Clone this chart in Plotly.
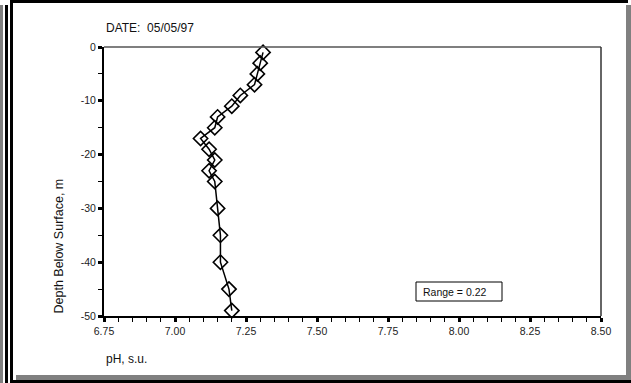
import plotly.graph_objects as go

# ---- data ----
depth_m = [-1, -3, -5, -7, -9, -11, -13, -15, -17, -19, -21, -23, -25, -30, -35, -40, -45, -49]
ph_su = [7.31, 7.30, 7.29, 7.28, 7.23, 7.20, 7.15, 7.14, 7.09, 7.12, 7.14, 7.12, 7.14, 7.15, 7.16, 7.16, 7.19, 7.20]
x_tick_vals = [6.75, 7.00, 7.25, 7.50, 7.75, 8.00, 8.25, 8.50]
x_tick_text = ["6.75", "7.00", "7.25", "7.50", "7.75", "8.00", "8.25", "8.50"]
y_tick_vals = [0, -10, -20, -30, -40, -50]
y_tick_text = ["0", "-10", "-20", "-30", "-40", "-50"]
date_label = "DATE:\u00a0\u00a005/05/97"
x_title = "pH, s.u."
y_title = "Depth Below Surface, m"
range_label = "Range = 0.22"

# ---- layout geometry (pixels) ----
W, H = 631, 383
L, R, T, B = 104, 601, 47, 316
PW, PH = R - L, B - T


def px(x):
    return (x - L) / PW


def py(y):
    return (B - y) / PH


FONT = "Liberation Sans, Arial, sans-serif"

fig = go.Figure()
fig.add_trace(go.Scatter(
    x=ph_su, y=depth_m, mode="lines+markers",
    line=dict(color="black", width=1.5),
    marker=dict(symbol="diamond-open", size=11, color="black", line=dict(width=1.6)),
    showlegend=False, cliponaxis=False,
))

fig.update_layout(
    width=W, height=H, autosize=False,
    margin=dict(l=L, r=W - R, t=T, b=H - B, pad=0),
    paper_bgcolor="white", plot_bgcolor="white",
    font=dict(family=FONT, size=10, color="#222"),
    xaxis=dict(
        range=[6.75, 8.5], tickvals=x_tick_vals, ticktext=x_tick_text,
        showgrid=False, zeroline=False,
        showline=True, linecolor="black", linewidth=2,
        ticks="outside", ticklen=4, tickwidth=3, tickcolor="black",
        minor=dict(dtick=0.05, tick0=6.75, ticks="outside", ticklen=4, tickwidth=1, tickcolor="black", showgrid=False),
        tickfont=dict(size=10.5, color="#222"),
    ),
    yaxis=dict(
        range=[-50, 0], tickvals=y_tick_vals, ticktext=y_tick_text,
        showgrid=False, zeroline=False,
        showline=True, linecolor="black", linewidth=2,
        ticks="outside", ticklen=4, tickwidth=3, tickcolor="black",
        minor=dict(dtick=5, tick0=0, ticks="outside", ticklen=4, tickwidth=1, tickcolor="black", showgrid=False),
        tickfont=dict(size=10.5, color="#222"),
    ),
)

shapes = []


def rect(x0, y0, x1, y1, color):
    shapes.append(dict(type="rect", xref="paper", yref="paper",
                       x0=px(x0), x1=px(x1), y0=py(y1), y1=py(y0),
                       fillcolor=color, line=dict(width=0), layer="above"))


# plot area top and right borders
shapes.append(dict(type="line", xref="paper", yref="paper", x0=0, x1=1, y0=1, y1=1,
                   line=dict(color="#555", width=1.5)))
shapes.append(dict(type="line", xref="paper", yref="paper", x0=1, x1=1, y0=0, y1=1,
                   line=dict(color="#333", width=1.5)))

# outer frame
rect(0, 5, 3, 383, "#808080")
rect(5, 5, 8, 383, "black")
rect(10, 0, 13, 380, "black")
rect(10, 0, 628, 3, "black")
rect(626, 5, 631, 380, "#808080")
rect(16, 375, 631, 380, "#808080")
rect(10, 380, 631, 383, "black")

# range box
shapes.append(dict(type="rect", xref="paper", yref="paper",
                   x0=px(416), x1=px(502), y0=py(301), y1=py(282),
                   fillcolor="white", line=dict(color="black", width=1)))

fig.update_layout(shapes=shapes)

ann = [
    dict(text=range_label, x=px(421), y=py(291.5), xanchor="left", yanchor="middle",
         font=dict(size=10.5, color="#111")),
    dict(text=date_label, x=px(104), y=py(28), xanchor="left", yanchor="middle",
         font=dict(size=12, color="#111")),
    dict(text=x_title, x=px(104), y=py(359), xanchor="left", yanchor="middle",
         font=dict(size=12, color="#111")),
    dict(text=y_title, x=px(58), y=py(316), xanchor="center", yanchor="bottom", textangle=-90,
         font=dict(size=12.5, color="#111")),
]
for a in ann:
    a.update(xref="paper", yref="paper", showarrow=False)
fig.update_layout(annotations=ann)

fig.write_html("out.html")
